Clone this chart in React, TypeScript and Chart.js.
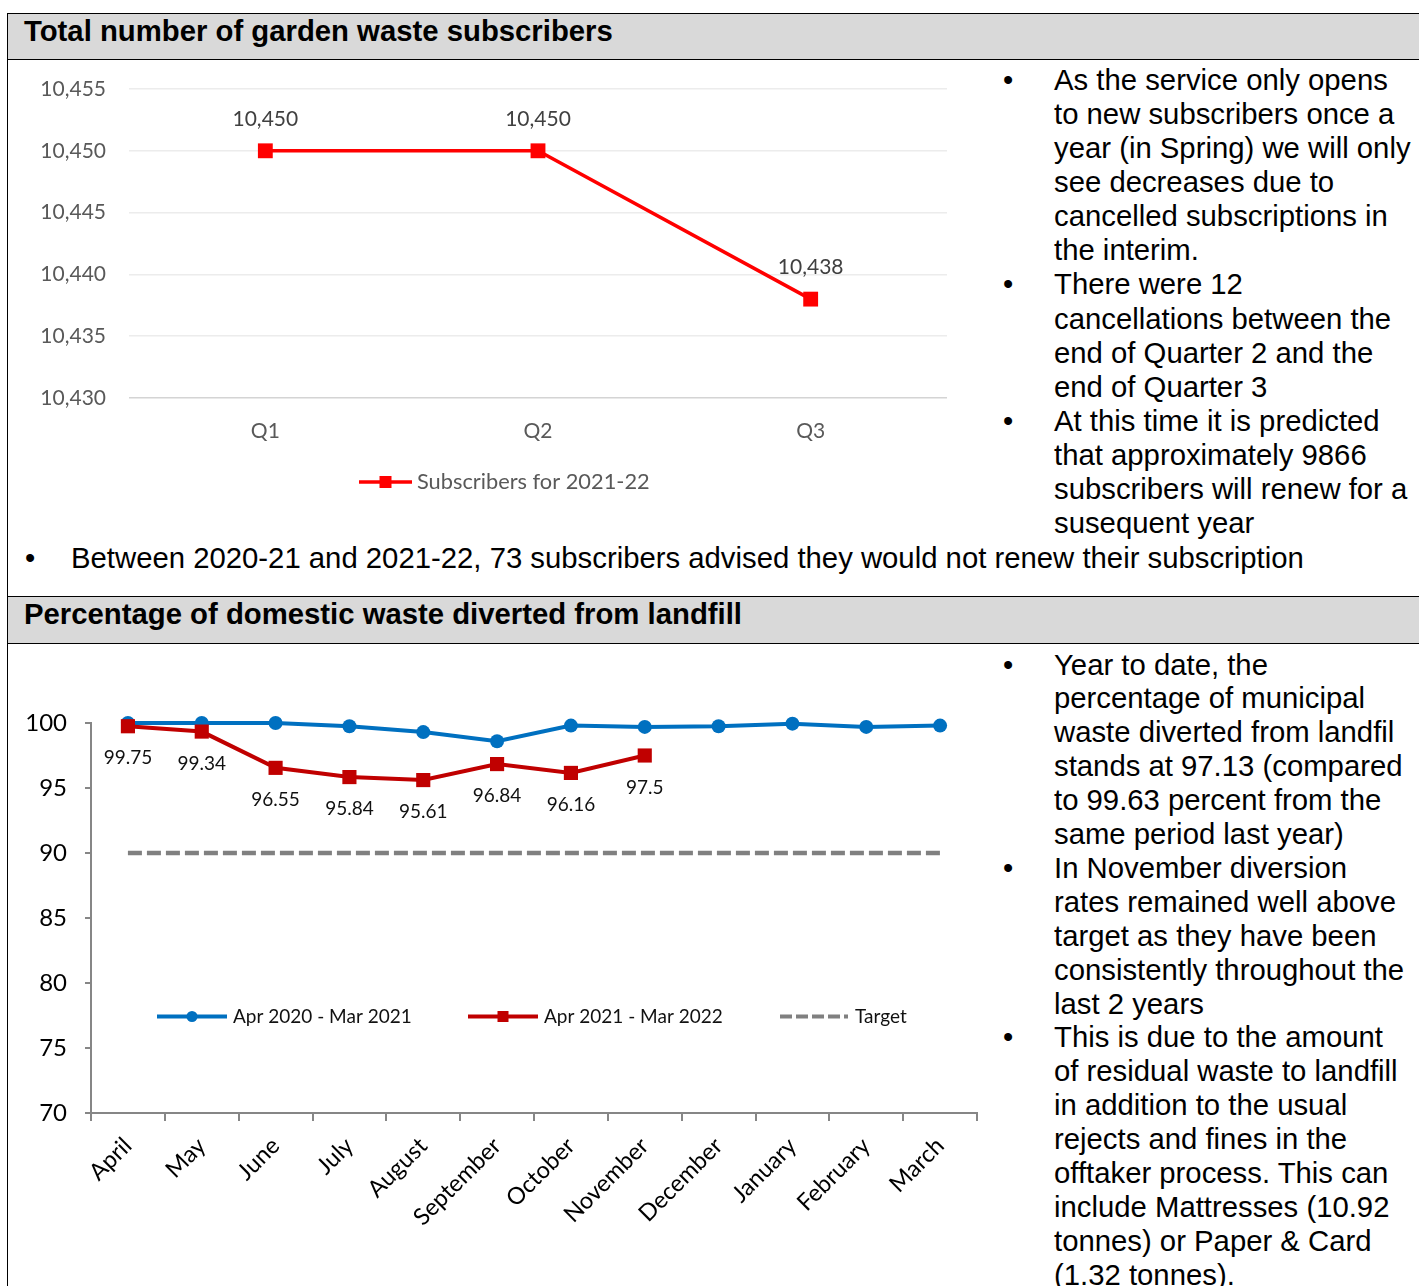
import React, { useEffect, useRef } from "react";
import { Chart, registerables } from "chart.js";

Chart.register(...registerables);

// ---------- Data: garden waste subscribers ----------
const quarterLabels = ["Q1", "Q2", "Q3"];
const subscribers2021 = [10450, 10450, 10438];
const subscriberAxisMin = 10430;
const subscriberAxisMax = 10455;
const subscriberAxisStep = 5;

// ---------- Data: domestic waste diverted from landfill ----------
const monthLabels = [
  "April", "May", "June", "July", "August", "September",
  "October", "November", "December", "January", "February", "March",
];
const diverted2020 = [100, 100, 100, 99.75, 99.3, 98.6, 99.8, 99.7, 99.75, 99.95, 99.7, 99.8];
const diverted2021 = [99.75, 99.34, 96.55, 95.84, 95.61, 96.84, 96.16, 97.5];
const divertedTarget = [90, 90, 90, 90, 90, 90, 90, 90, 90, 90, 90, 90];
const divertedAxisMin = 70;
const divertedAxisMax = 100;
const divertedAxisStep = 5;

// ---------- Text ----------
const title1 = "Total number of garden waste subscribers";
const title2 = "Percentage of domestic waste diverted from landfill";
const notes1 = [
  { b: true, t: "As the service only opens" },
  { b: false, t: "to new subscribers once a" },
  { b: false, t: "year (in Spring) we will only" },
  { b: false, t: "see decreases due to" },
  { b: false, t: "cancelled subscriptions in" },
  { b: false, t: "the interim." },
  { b: true, t: "There were 12" },
  { b: false, t: "cancellations between the" },
  { b: false, t: "end of Quarter 2 and the" },
  { b: false, t: "end of Quarter 3" },
  { b: true, t: "At this time it is predicted" },
  { b: false, t: "that approximately 9866" },
  { b: false, t: "subscribers will renew for a" },
  { b: false, t: "susequent year" },
];
const noteBottom = "Between 2020-21 and 2021-22, 73 subscribers advised they would not renew their subscription";
const notes2 = [
  { b: true, t: "Year to date, the" },
  { b: false, t: "percentage of municipal" },
  { b: false, t: "waste diverted from landfil" },
  { b: false, t: "stands at 97.13 (compared" },
  { b: false, t: "to 99.63 percent from the" },
  { b: false, t: "same period last year)" },
  { b: true, t: "In November diversion" },
  { b: false, t: "rates remained well above" },
  { b: false, t: "target as they have been" },
  { b: false, t: "consistently throughout the" },
  { b: false, t: "last 2 years" },
  { b: true, t: "This is due to the amount" },
  { b: false, t: "of residual waste to landfill" },
  { b: false, t: "in addition to the usual" },
  { b: false, t: "rejects and fines in the" },
  { b: false, t: "offtaker process. This can" },
  { b: false, t: "include Mattresses (10.92" },
  { b: false, t: "tonnes) or Paper & Card" },
  { b: false, t: "(1.32 tonnes)." },
];

const CHART_FONT = "Lato";
const DOC_FONT = "'Liberation Sans', Arial, sans-serif";

// ---------- plugins ----------
type LabelSpec = {
  datasetIndex: number;
  dy: number;
  font: string;
  color: string;
  format: (v: number) => string;
};
function valueLabels(specs: LabelSpec[]) {
  return {
    id: "valueLabels",
    afterDatasetsDraw(chart: any) {
      const ctx = chart.ctx;
      specs.forEach((s) => {
        const meta = chart.getDatasetMeta(s.datasetIndex);
        const values = chart.data.datasets[s.datasetIndex].data;
        ctx.save();
        ctx.font = s.font;
        ctx.fillStyle = s.color;
        ctx.textAlign = "center";
        ctx.textBaseline = "middle";
        meta.data.forEach((el: any, i: number) => {
          const v = values[i];
          if (v === null || v === undefined) return;
          ctx.fillText(s.format(v), el.x, el.y + s.dy);
        });
        ctx.restore();
      });
    },
  };
}

type LegendItem = {
  x0: number;
  x1: number;
  y: number;
  color: string;
  width: number;
  dash?: number[];
  marker?: "circle" | "rect";
  markerSize?: number;
  text: string;
  textX: number;
};
function drawnLegend(items: LegendItem[], font: string, textColor: string) {
  return {
    id: "drawnLegend",
    afterDraw(chart: any) {
      const ctx = chart.ctx;
      ctx.save();
      items.forEach((it) => {
        ctx.strokeStyle = it.color;
        ctx.lineWidth = it.width;
        ctx.lineCap = "butt";
        ctx.setLineDash(it.dash || []);
        ctx.beginPath();
        ctx.moveTo(it.x0, it.y);
        ctx.lineTo(it.x1, it.y);
        ctx.stroke();
        ctx.setLineDash([]);
        const cx = (it.x0 + it.x1) / 2;
        const s = it.markerSize || 0;
        ctx.fillStyle = it.color;
        if (it.marker === "circle") {
          ctx.beginPath();
          ctx.arc(cx, it.y, s / 2, 0, Math.PI * 2);
          ctx.fill();
        } else if (it.marker === "rect") {
          ctx.fillRect(cx - s / 2, it.y - s / 2, s, s);
        }
        ctx.font = font;
        ctx.fillStyle = textColor;
        ctx.textAlign = "left";
        ctx.textBaseline = "middle";
        ctx.fillText(it.text, it.textX, it.y);
      });
      ctx.restore();
    },
  };
}

const noSidePadding = (s: any) => {
  s.paddingLeft = 0;
  s.paddingRight = 0;
};
const noEndPadding = (s: any) => {
  s.paddingTop = 0;
  s.paddingBottom = 0;
};

// ---------- chart configs ----------
function subscribersConfig(): any {
  return {
    type: "line",
    data: {
      labels: quarterLabels,
      datasets: [
        {
          label: "Subscribers for 2021-22",
          data: subscribers2021,
          borderColor: "#ff0000",
          backgroundColor: "#ff0000",
          borderWidth: 3.5,
          pointStyle: "rect",
          pointRadius: 10.5,
          pointBorderWidth: 0,
          pointBackgroundColor: "#ff0000",
          tension: 0,
          clip: false,
        },
      ],
    },
    options: {
      animation: false,
      responsive: false,
      maintainAspectRatio: false,
      layout: { padding: { left: 0, right: 28, top: 29, bottom: 0 } },
      plugins: { legend: { display: false }, tooltip: { enabled: false } },
      scales: {
        x: {
          offset: true,
          grid: { display: false },
          border: { display: false },
          ticks: {
            font: { family: CHART_FONT, size: 21 },
            color: "#595959",
            padding: 13,
          },
          afterFit: (s: any) => {
            s.height = 122;
            noSidePadding(s);
          },
        },
        y: {
          min: subscriberAxisMin,
          max: subscriberAxisMax,
          ticks: {
            stepSize: subscriberAxisStep,
            font: { family: CHART_FONT, size: 21 },
            color: "#595959",
            padding: 23,
            callback: (v: any) => Number(v).toLocaleString("en-US"),
          },
          grid: {
            drawTicks: false,
            lineWidth: 1.5,
            color: (c: any) => (c.tick && c.tick.value === subscriberAxisMin ? "#d4d4d4" : "#ececec"),
          },
          border: { display: false },
          afterFit: (s: any) => {
            s.width = 121;
            noEndPadding(s);
          },
        },
      },
    },
    plugins: [
      valueLabels([
        {
          datasetIndex: 0,
          dy: -32,
          font: `21px ${CHART_FONT}`,
          color: "#404040",
          format: (v) => v.toLocaleString("en-US"),
        },
      ]),
      drawnLegend(
        [
          {
            x0: 351,
            x1: 404,
            y: 422,
            color: "#ff0000",
            width: 3.5,
            marker: "rect",
            markerSize: 12,
            text: "Subscribers for 2021-22",
            textX: 409,
          },
        ],
        `21.8px ${CHART_FONT}`,
        "#595959"
      ),
    ],
  };
}

function divertedConfig(): any {
  return {
    type: "line",
    data: {
      labels: monthLabels,
      datasets: [
        {
          label: "Apr 2020 - Mar 2021",
          data: diverted2020,
          borderColor: "#0070c0",
          backgroundColor: "#0070c0",
          borderWidth: 4,
          pointStyle: "circle",
          pointRadius: 7,
          pointBorderWidth: 0,
          pointBackgroundColor: "#0070c0",
          tension: 0,
          clip: false,
          order: 1,
        },
        {
          label: "Apr 2021 - Mar 2022",
          data: diverted2021,
          borderColor: "#c00000",
          backgroundColor: "#c00000",
          borderWidth: 4,
          pointStyle: "rect",
          pointRadius: 10,
          pointBorderWidth: 0,
          pointBackgroundColor: "#c00000",
          tension: 0,
          clip: false,
          order: 0,
        },
        {
          label: "Target",
          data: divertedTarget,
          borderColor: "#808080",
          borderWidth: 4.5,
          borderDash: [14, 5],
          pointRadius: 0,
          tension: 0,
          clip: false,
          order: 2,
        },
      ],
    },
    options: {
      animation: false,
      responsive: false,
      maintainAspectRatio: false,
      layout: { padding: { left: 0, right: 2, top: 79, bottom: 0 } },
      plugins: { legend: { display: false }, tooltip: { enabled: false } },
      scales: {
        x: {
          offset: true,
          grid: {
            offset: true,
            drawOnChartArea: false,
            drawTicks: true,
            tickLength: 8,
            color: "#868686",
            lineWidth: 2,
          },
          border: { display: true, color: "#868686", width: 2 },
          ticks: {
            autoSkip: false,
            maxRotation: 45,
            minRotation: 45,
            font: { family: CHART_FONT, size: 23.5 },
            color: "#000000",
            padding: 11,
          },
          afterFit: (s: any) => {
            s.height = 173;
            noSidePadding(s);
          },
        },
        y: {
          min: divertedAxisMin,
          max: divertedAxisMax,
          ticks: {
            stepSize: divertedAxisStep,
            font: { family: CHART_FONT, size: 24 },
            color: "#000000",
            padding: 18,
          },
          grid: {
            drawOnChartArea: false,
            drawTicks: true,
            tickLength: 6,
            color: "#868686",
            lineWidth: 2,
          },
          border: { display: true, color: "#868686", width: 2 },
          afterFit: (s: any) => {
            s.width = 83;
            noEndPadding(s);
          },
        },
      },
    },
    plugins: [
      valueLabels([
        {
          datasetIndex: 1,
          dy: 32,
          font: `19px ${CHART_FONT}`,
          color: "#111111",
          format: (v) => String(v),
        },
      ]),
      drawnLegend(
        [
          {
            x0: 149,
            x1: 219,
            y: 372.5,
            color: "#0070c0",
            width: 4,
            marker: "circle",
            markerSize: 11,
            text: "Apr 2020 - Mar 2021",
            textX: 225,
          },
          {
            x0: 460,
            x1: 530,
            y: 372.5,
            color: "#c00000",
            width: 4,
            marker: "rect",
            markerSize: 11,
            text: "Apr 2021 - Mar 2022",
            textX: 536,
          },
          {
            x0: 772,
            x1: 840,
            y: 372.5,
            color: "#808080",
            width: 4,
            dash: [12, 4],
            text: "Target",
            textX: 847,
          },
        ],
        `19px ${CHART_FONT}`,
        "#111111"
      ),
    ],
  };
}

// ---------- components ----------
function ChartCanvas(props: { make: () => any; left: number; top: number; width: number; height: number }) {
  const ref = useRef<HTMLCanvasElement>(null);
  useEffect(() => {
    const chart = new Chart(ref.current as HTMLCanvasElement, props.make());
    return () => chart.destroy();
  }, []);
  return (
    <canvas
      ref={ref}
      width={props.width}
      height={props.height}
      style={{
        position: "absolute",
        left: props.left,
        top: props.top,
        width: props.width,
        height: props.height,
      }}
    />
  );
}

function Notes(props: { lines: { b: boolean; t: string }[]; top: number; pitch: number }) {
  return (
    <>
      {props.lines.map((l, i) => (
        <div
          key={i}
          style={{
            position: "absolute",
            left: 1000,
            top: props.top + i * props.pitch,
            height: 34,
            lineHeight: "34px",
            fontFamily: DOC_FONT,
            fontSize: 29.3,
            whiteSpace: "nowrap",
            color: "#000",
          }}
        >
          {l.b ? <span style={{ position: "absolute", left: 3 }}>•</span> : null}
          <span style={{ position: "absolute", left: 54 }}>{l.t}</span>
        </div>
      ))}
    </>
  );
}

const line = (top: number, height = 1.5): React.CSSProperties => ({
  position: "absolute",
  left: 6.5,
  top,
  width: 1419,
  height,
  background: "#000",
});

export default function App() {
  return (
    <div
      style={{
        position: "absolute",
        left: 0,
        top: 0,
        width: 1419,
        height: 1286,
        overflow: "hidden",
        background: "#fff",
        fontFamily: DOC_FONT,
      }}
    >
      {/* header 1 */}
      <div style={{ position: "absolute", left: 8, top: 14, width: 1411, height: 44.5, background: "#d9d9d9" }} />
      <div
        style={{
          position: "absolute",
          left: 24,
          top: 14,
          lineHeight: "34px",
          fontSize: 29.3,
          fontWeight: 700,
          whiteSpace: "nowrap",
          color: "#000",
        }}
      >
        {title1}
      </div>
      <div style={line(12.5)} />
      <div style={line(58.5)} />

      <ChartCanvas make={subscribersConfig} left={8} top={60} width={967} height={460} />
      <Notes lines={notes1} top={63} pitch={34.08} />

      <div
        style={{
          position: "absolute",
          left: 0,
          top: 541,
          height: 34,
          lineHeight: "34px",
          fontSize: 29.3,
          whiteSpace: "nowrap",
          color: "#000",
        }}
      >
        <span style={{ position: "absolute", left: 25 }}>•</span>
        <span style={{ position: "absolute", left: 71 }}>{noteBottom}</span>
      </div>

      <div style={line(595.5)} />
      {/* header 2 */}
      <div style={{ position: "absolute", left: 8, top: 597, width: 1411, height: 45.5, background: "#d9d9d9" }} />
      <div
        style={{
          position: "absolute",
          left: 24,
          top: 597,
          lineHeight: "34px",
          fontSize: 29.3,
          fontWeight: 700,
          whiteSpace: "nowrap",
          color: "#000",
        }}
      >
        {title2}
      </div>
      <div style={line(642.5)} />

      <ChartCanvas make={divertedConfig} left={8} top={644} width={979} height={642} />
      <Notes lines={notes2} top={647.5} pitch={33.9} />

      {/* left border */}
      <div style={{ position: "absolute", left: 6.5, top: 12.5, width: 1.5, height: 1290, background: "#000" }} />
    </div>
  );
}
